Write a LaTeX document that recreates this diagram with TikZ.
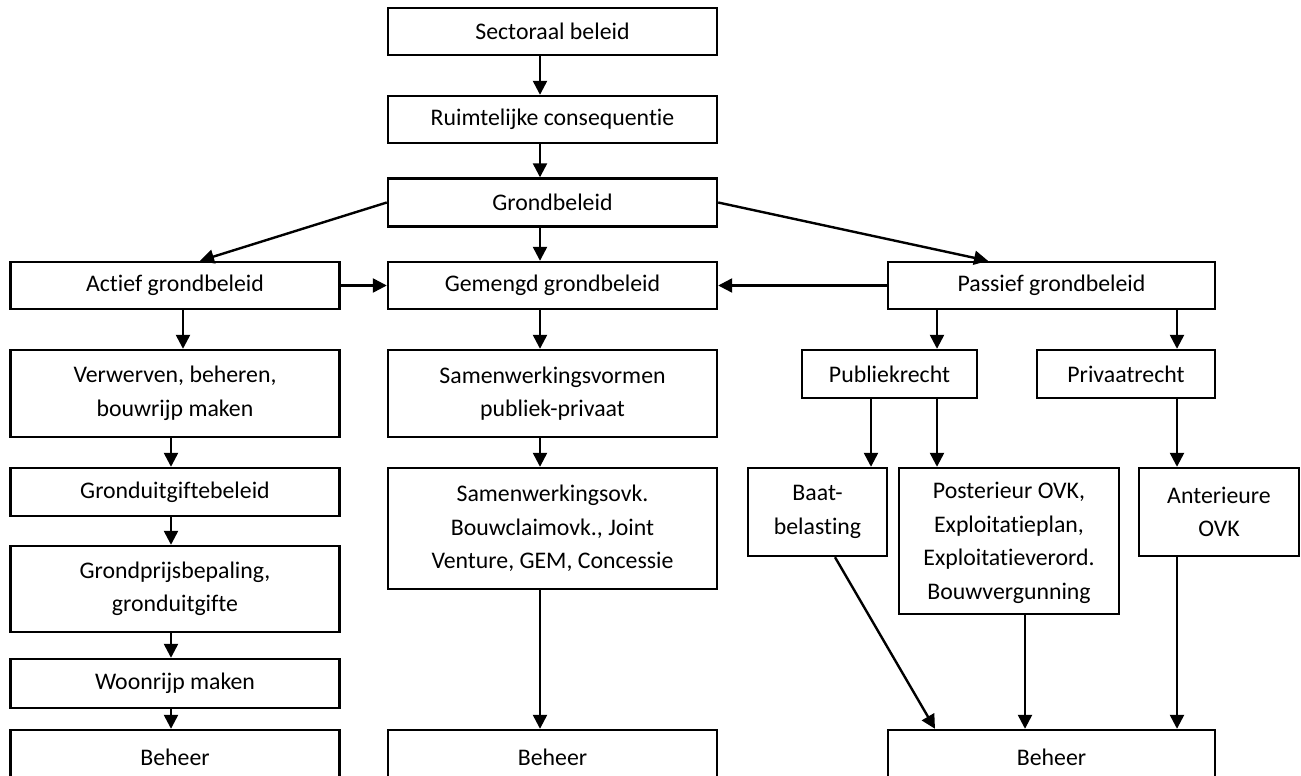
\documentclass[tikz,border=0pt]{standalone}
\usepackage{fontspec}
\setmainfont[Ligatures=NoCommon]{Carlito}
\usetikzlibrary{arrows.meta}

\begin{document}
\begin{tikzpicture}[->,>={Triangle[length=14pt,width=14pt]},x=1pt,y=-1pt,
  line width=2.4pt,
  box node/.style={rectangle,draw,inner sep=0pt,align=center,
    minimum width=329pt,minimum height=47pt,
    font=\fontsize{23.8}{33.5}\selectfont}]
  \useasboundingbox (0,0) rectangle (1301,776);

  % top column
  \node[box node] (sect) at (552.5,31.5) {Sectoraal beleid};
  \node[box node] (ruim) at (552.5,119.5) {Ruimtelijke consequentie};
  \node[box node,minimum height=48pt] (grond) at (552.5,202.5) {Grondbeleid};
  \node[box node] (actief) at (175,285.5) {Actief grondbeleid};
  \node[box node] (gemengd) at (552.5,285.5) {Gemengd grondbeleid};
  \node[box node,minimum width=327pt] (passief) at (1051.5,285.5) {Passief grondbeleid};

  % actief
  \node[box node,minimum height=87pt] (verw) at (175,393.5) {Verwerven, beheren,\\bouwrijp maken};
  \node[box node,minimum height=48pt] (uitg) at (175,492) {Gronduitgiftebeleid};
  \node[box node,minimum height=86pt] (prijs) at (175,589) {Grondprijsbepaling,\\gronduitgifte};
  \node[box node,minimum height=49pt] (woon) at (175,683.5) {Woonrijp maken};
  \node[box node,minimum height=54pt] (beheerL) at (175,757) {Beheer};

  % gemengd
  \node[box node,minimum height=87pt] (samv) at (552.5,393.5) {Samenwerkingsvormen\\publiek-privaat};
  \node[box node,minimum height=121pt] (samovk) at (552.5,528.5) {Samenwerkingsovk.\\Bouwclaimovk., Joint\\Venture, GEM, Concessie};
  \node[box node,minimum height=54pt] (beheerM) at (552.5,757) {Beheer};

  % passief
  \node[box node,minimum width=175pt,minimum height=48pt] (publ) at (889.5,374) {Publiekrecht};
  \node[box node,minimum width=178pt,minimum height=48pt] (priv) at (1126,374) {Privaatrecht};
  \node[box node,minimum width=139pt,minimum height=88pt] (baat) at (817.5,512) {Baat-\\belasting};
  \node[box node,minimum width=220pt,minimum height=146pt,text depth=-6pt] (post) at (1009,541) {Posterieur OVK,\\Exploitatieplan,\\Exploitatieverord.\\Bouwvergunning};
  \node[box node,minimum width=160pt,minimum height=88pt] (ant) at (1219,512) {Anterieure\\OVK};
  \node[box node,minimum width=327pt,minimum height=54pt] (beheerR) at (1051.5,757) {Beheer};

  % arrow columns
  \coordinate (mcol) at (540,0);
  \coordinate (acol) at (183,0);
  \coordinate (lcol) at (171,0);
  \coordinate (pcol) at (937,0);
  \coordinate (bcol) at (871,0);
  \coordinate (vcol) at (1177,0);
  \coordinate (ocol) at (1025,0);
  \coordinate (sbot) at (835,0);
  \coordinate (rtop) at (935,0);

  \path
    (sect.south -| mcol) edge (ruim.north -| mcol)
    (ruim.south -| mcol) edge (grond.north -| mcol)
    (grond.west) edge ([xshift=25pt]actief.north)
    (grond.south -| mcol) edge (gemengd.north -| mcol)
    (grond.east) edge ([xshift=-63.5pt]passief.north)
    (actief.east) edge (gemengd.west)
    (passief.west) edge (gemengd.east)
    (actief.south -| acol) edge (verw.north -| acol)
    (verw.south -| lcol) edge (uitg.north -| lcol)
    (uitg.south -| lcol) edge (prijs.north -| lcol)
    (prijs.south -| lcol) edge (woon.north -| lcol)
    (woon.south -| lcol) edge (beheerL.north -| lcol)
    (gemengd.south -| mcol) edge (samv.north -| mcol)
    (samv.south -| mcol) edge (samovk.north -| mcol)
    (samovk.south -| mcol) edge (beheerM.north -| mcol)
    (passief.south -| pcol) edge (publ.north -| pcol)
    (passief.south -| vcol) edge (priv.north -| vcol)
    (publ.south -| bcol) edge (baat.north -| bcol)
    (publ.south -| pcol) edge (post.north -| pcol)
    (priv.south -| vcol) edge (ant.north -| vcol)
    (baat.south -| sbot) edge (beheerR.north -| rtop)
    (post.south -| ocol) edge (beheerR.north -| ocol)
    (ant.south -| vcol) edge (beheerR.north -| vcol);
\end{tikzpicture}
\end{document}
